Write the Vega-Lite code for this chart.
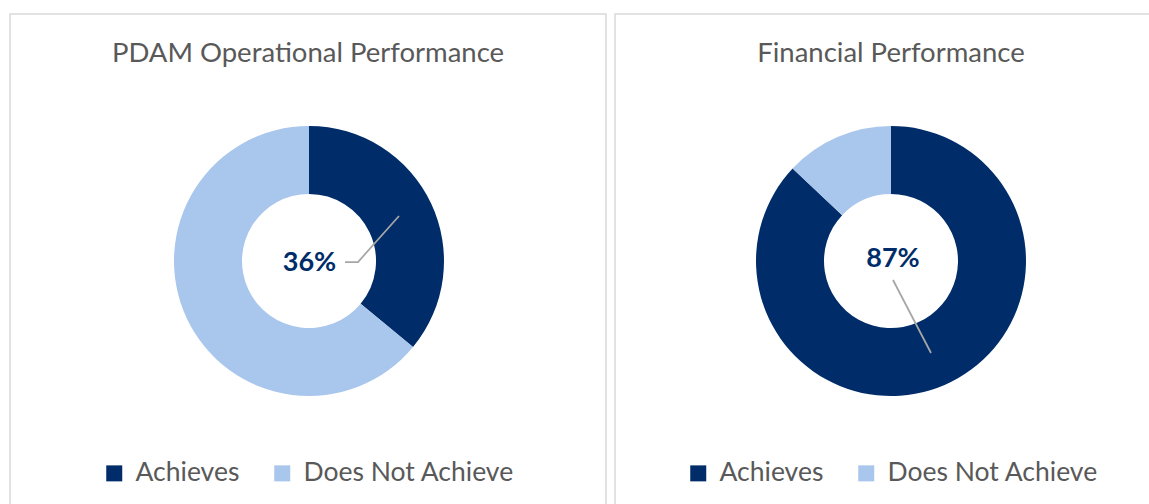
{
  "$schema": "https://vega.github.io/schema/vega-lite/v6.json",
  "background": "white",
  "padding": {"top": 13, "left": 9, "right": 0, "bottom": 0},
  "spacing": 7,
  "config": {
    "font": "Lato",
    "view": {"stroke": "#D9D9D9", "strokeWidth": 1.5, "fill": "white"},
    "title": {"font": "Lato", "fontSize": 27.5, "fontWeight": "normal", "color": "#595959"},
    "legend": {
      "orient": "none", "direction": "horizontal", "title": null,
      "labelFont": "Lato", "labelFontSize": 26.5, "labelColor": "#595959",
      "symbolType": "square", "symbolSize": 256, "symbolStrokeWidth": 0,
      "labelOffset": 8, "columnPadding": 29, "padding": 0, "labelLimit": 400
    }
  },
  "datasets": {
    "slices": [
      {"panel": "op", "status": "Achieves", "value": 36},
      {"panel": "op", "status": "Does Not Achieve", "value": 64},
      {"panel": "fin", "status": "Achieves", "value": 87},
      {"panel": "fin", "status": "Does Not Achieve", "value": 13}
    ],
    "leaders": [
      {"panel": "op", "i": 0, "x": 36, "y": 1},
      {"panel": "op", "i": 1, "x": 49, "y": 1},
      {"panel": "op", "i": 2, "x": 90, "y": -45},
      {"panel": "fin", "i": 0, "x": 2, "y": 19},
      {"panel": "fin", "i": 1, "x": 40, "y": 92}
    ],
    "labels": [
      {"panel": "op", "label": "36%", "x": 0.5, "y": 1.5},
      {"panel": "fin", "label": "87%", "x": 2, "y": -2}
    ]
  },
  "resolve": {"scale": {"color": "shared"}, "legend": {"color": "independent"}},
  "hconcat": [
    {
      "width": 596,
      "height": 494,
      "title": {"text": "PDAM Operational Performance", "offset": -53},
      "layer": [
        {
          "data": {"name": "slices"},
          "transform": [{"filter": "datum.panel === 'op'"}],
          "mark": {"type": "arc", "outerRadius": 135, "innerRadius": 67},
          "encoding": {
            "x": {"datum": 0, "type": "quantitative", "scale": {"domain": [-299, 297], "nice": false, "zero": false}, "axis": null},
            "y": {"datum": 0, "type": "quantitative", "scale": {"domain": [-247, 247], "reverse": true, "nice": false, "zero": false}, "axis": null},
            "theta": {"field": "value", "type": "quantitative", "stack": true},
            "color": {
              "field": "status", "type": "nominal",
              "scale": {"domain": ["Achieves", "Does Not Achieve"], "range": ["#002D69", "#A9C6EC"]},
              "legend": {"legendX": 91, "legendY": 446}
            }
          }
        },
        {
          "data": {"name": "leaders"},
          "transform": [{"filter": "datum.panel === 'op'"}],
          "mark": {"type": "line", "color": "#A6A6A6", "strokeWidth": 1.75},
          "encoding": {
            "x": {"field": "x", "type": "quantitative"},
            "y": {"field": "y", "type": "quantitative"},
            "order": {"field": "i"}
          }
        },
        {
          "data": {"name": "labels"},
          "transform": [{"filter": "datum.panel === 'op'"}],
          "mark": {"type": "text", "font": "Lato", "fontSize": 27, "fontWeight": "bold", "color": "#002D69", "align": "center", "baseline": "middle"},
          "encoding": {
            "x": {"field": "x", "type": "quantitative"},
            "y": {"field": "y", "type": "quantitative"},
            "text": {"field": "label"}
          }
        }
      ]
    },
    {
      "width": 537,
      "height": 494,
      "title": {"text": "Financial Performance", "offset": -53, "dx": 7.5},
      "layer": [
        {
          "data": {"name": "slices"},
          "transform": [{"filter": "datum.panel === 'fin'"}],
          "mark": {"type": "arc", "outerRadius": 135, "innerRadius": 67},
          "encoding": {
            "x": {"datum": 0, "type": "quantitative", "scale": {"domain": [-276, 261], "nice": false, "zero": false}, "axis": null},
            "y": {"datum": 0, "type": "quantitative", "scale": {"domain": [-247, 247], "reverse": true, "nice": false, "zero": false}, "axis": null},
            "theta": {"field": "value", "type": "quantitative", "stack": true},
            "color": {
              "field": "status", "type": "nominal",
              "scale": {"domain": ["Achieves", "Does Not Achieve"], "range": ["#002D69", "#A9C6EC"]},
              "legend": {"legendX": 70, "legendY": 446}
            }
          }
        },
        {
          "data": {"name": "leaders"},
          "transform": [{"filter": "datum.panel === 'fin'"}],
          "mark": {"type": "line", "color": "#A6A6A6", "strokeWidth": 1.75},
          "encoding": {
            "x": {"field": "x", "type": "quantitative"},
            "y": {"field": "y", "type": "quantitative"},
            "order": {"field": "i"}
          }
        },
        {
          "data": {"name": "labels"},
          "transform": [{"filter": "datum.panel === 'fin'"}],
          "mark": {"type": "text", "font": "Lato", "fontSize": 27, "fontWeight": "bold", "color": "#002D69", "align": "center", "baseline": "middle"},
          "encoding": {
            "x": {"field": "x", "type": "quantitative"},
            "y": {"field": "y", "type": "quantitative"},
            "text": {"field": "label"}
          }
        }
      ]
    }
  ]
}
